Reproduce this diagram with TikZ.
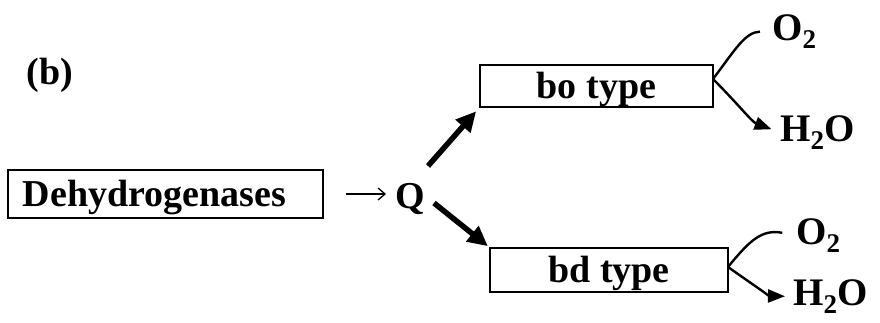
\documentclass[tikz,border=0pt]{standalone}
\usepackage{fontspec}
\setmainfont{Liberation Serif}
\usetikzlibrary{arrows.meta}
% lowered, fairly large subscript as in typewritten chemistry
\newcommand{\lowsub}[1]{\raisebox{-0.22em}{\fontsize{27}{27}\selectfont #1}}
\begin{document}
\begin{tikzpicture}[x=1pt,y=-1pt,
  bigtext/.style={font=\fontsize{38}{42}\selectfont\bfseries},
  chemtext/.style={font=\fontsize{39}{42}\selectfont\bfseries, inner sep=0pt},
  lbl/.style={bigtext, inner sep=0pt},
  boxed/.style={bigtext, draw, line width=1.2pt, inner ysep=0pt,
    text height=33pt, text depth=8pt},
  thin/.style={line width=1.3pt, -{Straight Barb[length=7pt,width=12pt]}},
  fat/.style={line width=5.5pt, -{Triangle[length=20pt,width=19pt]}},
  branch/.style={line width=2.4pt},
  outarr/.style={line width=2.4pt, -{Triangle[length=17pt,width=13pt]}}]
\useasboundingbox (0,0) rectangle (880,322);

% label of the panel
\node[lbl] (b) at (50,75) {(b)};

% electron donor, quinone pool and the two oxidases
\node[boxed, text width=285pt, align=left, inner xsep=15pt, minimum height=48pt]
  (dh) at (165.5,194) {Dehydrogenases};
\node[lbl, anchor=base] (Q) at (410,208) {Q};
\node[boxed, minimum width=233pt, minimum height=42pt] (bo) at (596.5,86) {bo type};
\node[boxed, minimum width=238pt, minimum height=44pt] (bd) at (609,270) {bd type};

% substrates and products
\node[chemtext, anchor=base west] (o2a) at (772,40) {O\lowsub{2}};
\node[chemtext, anchor=base west] (h2oa) at (780,141) {H\lowsub{2}O};
\node[chemtext, anchor=base west] (o2b) at (796,244) {O\lowsub{2}};
\node[chemtext, anchor=base west] (h2ob) at (793,305) {H\lowsub{2}O};

% junction points on the oxidase boxes, tails of the quinone arrows
\coordinate (ja) at (713,79);
\coordinate (jb) at (728,267);
\coordinate (qa) at (428,166);
\coordinate (qb) at (434,203);

% flow from the dehydrogenases to the quinone pool
\draw[thin, shorten <=22pt, shorten >=9pt] (dh.east) -- (Q.west |- dh.east);

% quinone pool feeding both oxidases
\draw[fat, shorten >=5pt] (qa) -- (bo.south west);
\draw[fat, shorten >=2pt] (qb) -- (bd.north west);

% bo oxidase: oxygen in, water out
\draw[branch, shorten >=12pt] (ja) .. controls (735,50) and (745,32) .. (o2a.west);
\draw[outarr, shorten >=9pt] (ja) .. controls (738,104) and (752,122) .. (h2oa.west);

% bd oxidase: oxygen in, water out
\draw[branch, shorten >=14pt] (jb) .. controls (750,240) and (762,229) .. (o2b.west);
\draw[outarr, shorten >=8pt] (jb) .. controls (752,284) and (770,296) .. (h2ob.west);
\end{tikzpicture}
\end{document}
